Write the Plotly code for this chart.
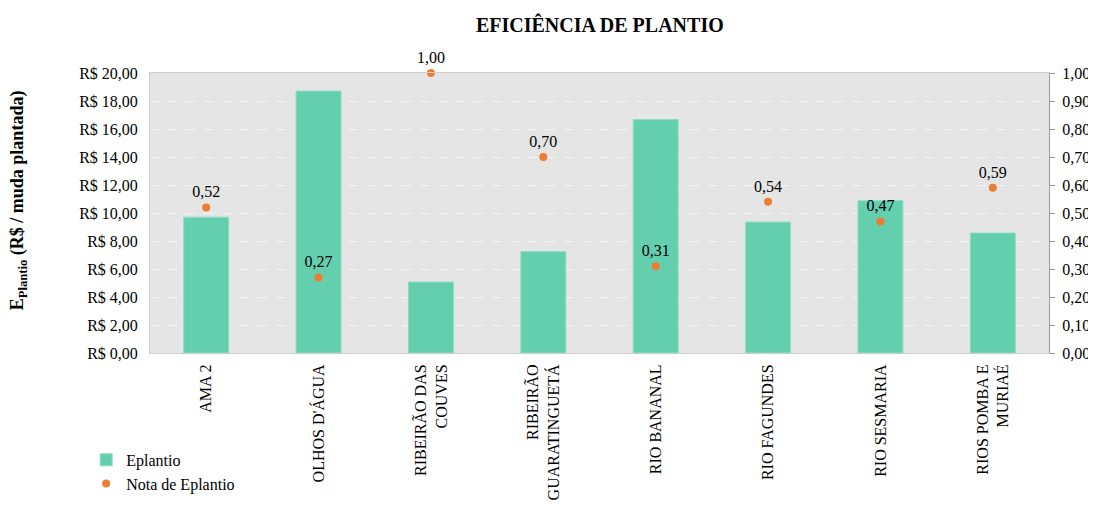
import plotly.graph_objects as go

categories = ["AMA 2", "OLHOS D'ÁGUA", "RIBEIRÃO DAS<br>COUVES", "RIBEIRÃO<br>GUARATINGUETÁ",
              "RIO BANANAL", "RIO FAGUNDES", "RIO SESMARIA", "RIOS POMBA E<br>MURIAÉ"]
eplantio = [9.70, 18.71, 5.07, 7.24, 16.67, 9.35, 10.88, 8.57]
nota = [0.52, 0.27, 1.00, 0.70, 0.31, 0.54, 0.47, 0.59]

FONT = "Liberation Serif"

fig = go.Figure()
fig.add_trace(go.Bar(
    x=categories, y=eplantio, name="Eplantio",
    marker=dict(color="#63cfae", line=dict(color="#8fdcc4", width=1)),
    width=0.4, yaxis="y",
))
fig.add_trace(go.Scatter(
    x=categories, y=nota, name="Nota de Eplantio", mode="markers+text",
    marker=dict(color="#ed7d31", size=8),
    texttemplate="%{y:.2f}", textposition="top center",
    textfont=dict(family=FONT, size=16, color="#000"),
    cliponaxis=False, yaxis="y2",
))

fig.update_layout(
    width=1096, height=505,
    margin=dict(l=142, r=55, t=65, b=160),
    paper_bgcolor="white", plot_bgcolor="#e5e5e5",
    separators=",.",
    font=dict(family=FONT, size=16, color="#000"),
    title=dict(text="<b>EFICIÊNCIA DE PLANTIO</b>", x=0.540, xanchor="center", xref="container",
               y=0.966, yref="container", yanchor="middle",
               font=dict(family=FONT, size=20, color="#000")),
    showlegend=True,
    legend=dict(x=-0.071, y=-0.321, xanchor="left", yanchor="top", bgcolor="rgba(0,0,0,0)",
                font=dict(family=FONT, size=16), itemwidth=30, tracegroupgap=0),
    xaxis=dict(tickangle=-90, showline=True, linecolor="#cfcfcf", linewidth=1, mirror=True,
               ticks="", automargin=False, ticklabelstandoff=4, tickfont=dict(family=FONT, size=16)),
    yaxis=dict(range=[0, 20], dtick=2, tickprefix="R$ ", tickformat=".2f",
               showgrid=True, gridcolor="#f4f4f4", griddash="dash", gridwidth=1,
               showline=True, linecolor="#cfcfcf", zeroline=False, ticks="",
               automargin=False, ticklabelstandoff=8, tickfont=dict(family=FONT, size=16)),
    yaxis2=dict(range=[0, 1], dtick=0.1, tickformat=".2f", overlaying="y", side="right",
                showgrid=False, showline=True, linecolor="#999999", zeroline=False,
                ticks="outside", ticklen=5, tickcolor="#999999", automargin=False,
                ticklabelstandoff=4, tickfont=dict(family=FONT, size=16)),
    annotations=[dict(
        text="<b>E<sub>Plantio</sub> (R$ / muda plantada)</b>", textangle=-90,
        xref="paper", yref="paper", x=-0.1468, y=0.546, xanchor="center", yanchor="middle",
        showarrow=False, font=dict(family=FONT, size=18, color="#000"),
    )],
)

fig.write_html("out.html")
